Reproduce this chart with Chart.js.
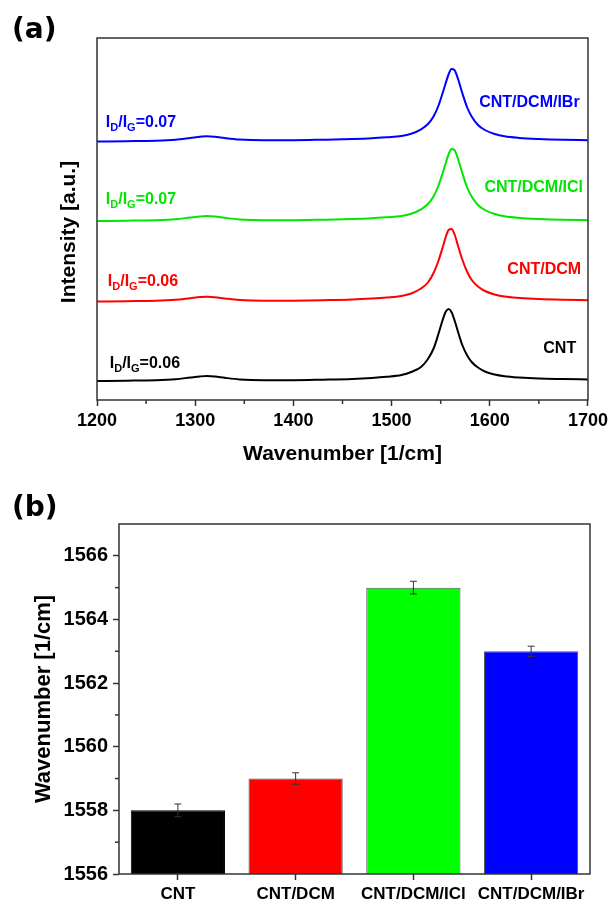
<!DOCTYPE html>
<html lang="en">
<head>
    <meta charset="UTF-8">
    <title>Raman G band</title>
    <script src="https://cdn.jsdelivr.net/npm/chart.js"></script>
    <style>
        body { margin: 0; background: #fff; }
        canvas { position: absolute; left: 0; }
        #spectra { top: 0; }
        #shift { top: 470px; }
    </style>
</head>
<body>
    <canvas id="spectra" width="612" height="470"></canvas>
    <canvas id="shift" width="612" height="431"></canvas>

    <script>
        // (a) Raman spectra, offset intensities
        const wavenumbers = [1200, 1230, 1260, 1280, 1295, 1305, 1312, 1320, 1330, 1345, 1370, 1400, 1430, 1460, 1480, 1495, 1510, 1520, 1530, 1537, 1543, 1548, 1552, 1555, 1558, 1561, 1564, 1568, 1572, 1577, 1582, 1588, 1595, 1605, 1615, 1630, 1650, 1675, 1700];
        const cntSpectrum = [19, 19.3, 19.8, 20.8, 22.5, 23.6, 24, 23.5, 22.2, 20.6, 19.8, 19.8, 20.3, 21, 22, 23.2, 25, 28, 33, 41, 52, 67, 80, 88, 91, 88, 80, 67, 55, 44.5, 37.5, 32.5, 28.5, 25.5, 23.8, 22.5, 21.5, 21, 20.6];
        const dcmSpectrum = [98.5, 98.8, 99.2, 100.2, 101.8, 102.9, 103.3, 102.8, 101.6, 100, 99.2, 99.3, 99.8, 100.5, 101.5, 102.5, 104, 106.5, 111.5, 117.5, 127.5, 140, 152.5, 162.5, 170, 171, 166, 153, 140.5, 128, 119.5, 113.5, 109, 105.5, 103.4, 102, 100.9, 100.2, 99.8];
        const iclSpectrum = [179, 179.3, 179.8, 180.8, 182.5, 183.6, 184, 183.5, 182.2, 180.6, 179.8, 179.8, 180.3, 181, 181.8, 182.8, 184, 186.3, 190.7, 196, 204, 215, 227, 236.5, 245.5, 251, 250, 240, 227, 212.5, 202.7, 195, 190, 186, 183.7, 182.1, 181, 180.2, 179.8];
        const ibrSpectrum = [258.5, 258.8, 259.3, 260.3, 262, 263.2, 263.8, 263.3, 262, 260.5, 259.8, 259.8, 260.3, 261, 261.8, 262.8, 264, 266.3, 270.7, 276, 284, 295, 307, 316.5, 325.5, 331, 330, 320, 307, 292.5, 282.7, 275, 270, 266, 263.7, 262.1, 261, 260.2, 259.8];

        const samples = ['CNT', 'CNT/DCM', 'CNT/DCM/ICl', 'CNT/DCM/IBr'];
        const ratios = ['0.06', '0.06', '0.07', '0.07'];

        // (b) G band position
        const peakPositions = [1558, 1559, 1565, 1563];
        const peakErrors = [0.2, 0.18, 0.2, 0.16];

        const colores = ['#000000', '#ff0000', '#00e600', '#0000ff'];
        const barColors = ['#000000', '#ff0000', '#00ff00', '#0000ff'];

        // where the annotations sit, in data units of panel (a)
        const nameAt = [[1688, 46.7], [1693, 125.7], [1695, 208.3], [1691.5, 293.3]];
        const ratioAt = [[1213, 31.7], [1211, 114.3], [1209, 195.7], [1209, 273.3]];

        const FONT = '"Liberation Sans", Arial, sans-serif';
        const AXIS = '#333';

        function drawRatio(ctx, x, y, value, color) {
            const parts = [['I', 16, 0], ['D', 11, 4], ['/I', 16, 0], ['G', 11, 4], ['=' + value, 16, 0]];
            ctx.fillStyle = color;
            ctx.textAlign = 'left';
            ctx.textBaseline = 'alphabetic';
            parts.forEach(p => {
                ctx.font = 'bold ' + p[1] + 'px ' + FONT;
                ctx.fillText(p[0], x, y + p[2]);
                x += ctx.measureText(p[0]).width;
            });
        }

        const spectraDecor = {
            id: 'spectraDecor',
            afterDraw(chart) {
                const ctx = chart.ctx;
                const a = chart.chartArea;
                const sx = chart.scales.x;
                const sy = chart.scales.y;
                ctx.save();
                ctx.strokeStyle = AXIS;
                ctx.lineWidth = 1.5;
                ctx.strokeRect(a.left, a.top, a.right - a.left, a.bottom - a.top);
                // minor ticks
                sx.ticks.forEach(t => {
                    if (t.value % 100 !== 0) {
                        const px = sx.getPixelForValue(t.value);
                        ctx.beginPath();
                        ctx.moveTo(px, a.bottom);
                        ctx.lineTo(px, a.bottom + 4);
                        ctx.stroke();
                    }
                });
                samples.forEach((s, i) => {
                    ctx.font = 'bold 16px ' + FONT;
                    ctx.fillStyle = colores[i];
                    ctx.textAlign = 'right';
                    ctx.textBaseline = 'alphabetic';
                    ctx.fillText(s, sx.getPixelForValue(nameAt[i][0]), sy.getPixelForValue(nameAt[i][1]));
                    drawRatio(ctx, sx.getPixelForValue(ratioAt[i][0]), sy.getPixelForValue(ratioAt[i][1]), ratios[i], colores[i]);
                });
                // y title
                ctx.translate(69, 232);
                ctx.rotate(-Math.PI / 2);
                ctx.font = 'bold 21px ' + FONT;
                ctx.fillStyle = '#000';
                ctx.textAlign = 'center';
                ctx.textBaseline = 'middle';
                ctx.fillText('Intensity [a.u.]', 0, 0);
                ctx.restore();

                ctx.save();
                ctx.font = 'bold 28px "DejaVu Sans", sans-serif';
                ctx.fillStyle = '#000';
                ctx.textBaseline = 'middle';
                ctx.fillText('(a)', 12, 31);
                ctx.restore();
            }
        };

        const series = [cntSpectrum, dcmSpectrum, iclSpectrum, ibrSpectrum];

        new Chart(document.getElementById('spectra'), {
            type: 'line',
            data: {
                datasets: series.map((arr, i) => ({
                    label: samples[i],
                    data: wavenumbers.map((w, j) => ({ x: w, y: arr[j] })),
                    borderColor: colores[i],
                    borderWidth: 2,
                    pointRadius: 0,
                    fill: false,
                    cubicInterpolationMode: 'monotone'
                }))
            },
            options: {
                responsive: false,
                animation: false,
                devicePixelRatio: 1,
                layout: { padding: { left: 97, right: 22, top: 38, bottom: 0 } },
                plugins: { legend: { display: false }, tooltip: { enabled: false } },
                scales: {
                    x: {
                        type: 'linear',
                        min: 1200,
                        max: 1700,
                        afterFit: s => { s.height = 70; },
                        border: { display: false },
                        grid: {
                            drawOnChartArea: false,
                            tickLength: 6,
                            tickWidth: 1.5,
                            tickColor: c => (c.tick && c.tick.value % 100 === 0) ? AXIS : 'rgba(0,0,0,0)'
                        },
                        ticks: {
                            stepSize: 50,
                            autoSkip: false,
                            maxRotation: 0,
                            padding: 4,
                            color: '#000',
                            font: { family: FONT, size: 18, weight: 'bold' },
                            callback: v => v % 100 === 0 ? v : ''
                        },
                        title: {
                            display: true,
                            text: 'Wavenumber [1/cm]',
                            color: '#000',
                            padding: { top: 0, bottom: 3 },
                            font: { family: FONT, size: 21, weight: 'bold' }
                        }
                    },
                    y: { display: false, min: 0, max: 362 }
                }
            },
            plugins: [spectraDecor]
        });

        const shiftDecor = {
            id: 'shiftDecor',
            afterDatasetsDraw(chart) {
                const ctx = chart.ctx;
                const sy = chart.scales.y;
                const meta = chart.getDatasetMeta(0);
                ctx.save();
                ctx.strokeStyle = '#333';
                ctx.lineWidth = 1;
                meta.data.forEach((bar, i) => {
                    const top = sy.getPixelForValue(peakPositions[i] + peakErrors[i]);
                    const bot = sy.getPixelForValue(peakPositions[i] - peakErrors[i]);
                    ctx.beginPath();
                    ctx.moveTo(bar.x, top); ctx.lineTo(bar.x, bot);
                    ctx.moveTo(bar.x - 3.5, top); ctx.lineTo(bar.x + 3.5, top);
                    ctx.moveTo(bar.x - 3.5, bot); ctx.lineTo(bar.x + 3.5, bot);
                    ctx.stroke();
                });
                ctx.restore();
            },
            afterDraw(chart) {
                const ctx = chart.ctx;
                const a = chart.chartArea;
                const sy = chart.scales.y;
                ctx.save();
                ctx.strokeStyle = AXIS;
                ctx.lineWidth = 1.5;
                ctx.strokeRect(a.left, a.top, a.right - a.left, a.bottom - a.top);
                sy.ticks.forEach(t => {
                    if (t.value % 2 !== 0 && t.value < sy.max) {
                        const py = sy.getPixelForValue(t.value);
                        ctx.beginPath();
                        ctx.moveTo(a.left, py);
                        ctx.lineTo(a.left - 4, py);
                        ctx.stroke();
                    }
                });
                ctx.font = 'bold 28px "DejaVu Sans", sans-serif';
                ctx.fillStyle = '#000';
                ctx.textBaseline = 'middle';
                ctx.fillText('(b)', 12, 39);
                ctx.restore();
            }
        };

        new Chart(document.getElementById('shift'), {
            type: 'bar',
            data: {
                labels: samples,
                datasets: [{
                    data: peakPositions,
                    backgroundColor: barColors,
                    borderColor: ['#000', '#555', '#555', '#555'],
                    borderWidth: 1,
                    borderSkipped: 'bottom',
                    categoryPercentage: 0.8,
                    barPercentage: 1
                }]
            },
            options: {
                responsive: false,
                animation: false,
                devicePixelRatio: 1,
                layout: { padding: { left: 0, right: 22, top: 54, bottom: 0 } },
                plugins: { legend: { display: false }, tooltip: { enabled: false } },
                scales: {
                    x: {
                        afterFit: s => { s.height = 27; },
                        border: { display: false },
                        grid: { offset: false, drawOnChartArea: false, tickLength: 6, tickWidth: 1.5, tickColor: AXIS },
                        ticks: {
                            autoSkip: false,
                            maxRotation: 0,
                            padding: 4,
                            color: '#000',
                            font: { family: FONT, size: 17, weight: 'bold' }
                        }
                    },
                    y: {
                        min: 1556,
                        max: 1567,
                        afterFit: s => { s.width = 119; },
                        border: { display: false },
                        grid: {
                            drawOnChartArea: false,
                            tickLength: 6,
                            tickWidth: 1.5,
                            tickColor: c => (c.tick && c.tick.value % 2 === 0) ? AXIS : 'rgba(0,0,0,0)'
                        },
                        ticks: {
                            stepSize: 1,
                            padding: 5,
                            color: '#000',
                            font: { family: FONT, size: 20, weight: 'bold' },
                            callback: v => v % 2 === 0 ? v : ''
                        },
                        title: {
                            display: true,
                            text: 'Wavenumber [1/cm]',
                            color: '#000',
                            padding: { top: 31, bottom: 0 },
                            font: { family: FONT, size: 22, weight: 'bold' }
                        }
                    }
                }
            },
            plugins: [shiftDecor]
        });
    </script>
</body>
</html>
